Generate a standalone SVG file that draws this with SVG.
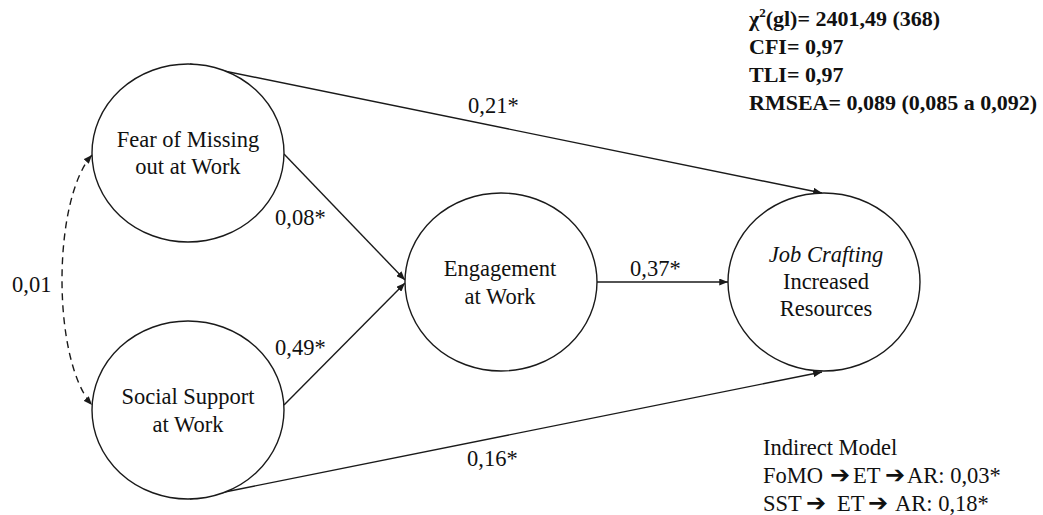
<svg xmlns="http://www.w3.org/2000/svg" width="1043" height="515" viewBox="0 0 1043 515">
<defs>
<style>
.node ellipse{fill:#fff;stroke:#1a1a1a;stroke-width:1.4}
.t{font-family:"Liberation Serif","Times New Roman",serif;font-size:22.5px;fill:#111;text-anchor:middle}
.lbl{font-family:"Liberation Serif","Times New Roman",serif;font-size:22.5px;fill:#111}
.stat{font-family:"Liberation Serif","Times New Roman",serif;font-size:22px;font-weight:bold;fill:#111}
.arr{font-family:"DejaVu Sans",sans-serif;font-size:24px;font-weight:bold}
.conn path{fill:none;stroke:#1a1a1a;stroke-width:1.4}
</style>
<marker id="ah" viewBox="0 0 10 8" refX="10" refY="4" markerWidth="9" markerHeight="7" markerUnits="userSpaceOnUse" orient="auto-start-reverse">
<path d="M0,0 L10,4 L0,8 z" fill="#1a1a1a"/>
</marker>
</defs>
<rect width="1043" height="515" fill="#fff"/>
<g id="connectors" class="conn">
<path d="M190,64 L822,193" marker-end="url(#ah)"/>
<path d="M190,499 L822,372" marker-end="url(#ah)"/>
<path d="M284,154 L405,280" marker-end="url(#ah)"/>
<path d="M284,405 L405,283" marker-end="url(#ah)"/>
<path d="M597,282 L728,282" marker-end="url(#ah)"/>
<path d="M92,155 C52,200 52,360 92,405" stroke-dasharray="7,5" marker-start="url(#ah)" marker-end="url(#ah)"/>
</g>
<g id="node-fomo" class="node">
<ellipse cx="188" cy="153" rx="96" ry="89"/>
<text class="t" x="188" y="147">Fear of Missing</text>
<text class="t" x="188" y="174">out at Work</text>
</g>
<g id="node-sst" class="node">
<ellipse cx="188" cy="410" rx="96" ry="89"/>
<text class="t" x="188" y="404">Social Support</text>
<text class="t" x="188" y="432">at Work</text>
</g>
<g id="node-eng" class="node">
<ellipse cx="501" cy="282" rx="96" ry="89"/>
<text class="t" x="500" y="276">Engagement</text>
<text class="t" x="500" y="304">at Work</text>
</g>
<g id="node-jc" class="node">
<ellipse cx="824" cy="282" rx="96" ry="89"/>
<text class="t" x="826" y="262" font-style="italic">Job Crafting</text>
<text class="t" x="826" y="289">Increased</text>
<text class="t" x="826" y="316">Resources</text>
</g>
<g id="labels">
<text class="lbl" x="468" y="113">0,21*</text>
<text class="lbl" x="275" y="225">0,08*</text>
<text class="lbl" x="275" y="355">0,49*</text>
<text class="lbl" x="12" y="292">0,01</text>
<text class="lbl" x="630" y="276">0,37*</text>
<text class="lbl" x="467" y="466">0,16*</text>
</g>
<g id="stats">
<text class="stat" x="749" y="26">χ<tspan font-size="13" dy="-9">2</tspan><tspan dy="9">(gl)= 2401,49 (368)</tspan></text>
<text class="stat" x="749" y="54">CFI= 0,97</text>
<text class="stat" x="749" y="82">TLI= 0,97</text>
<text class="stat" x="749" y="110">RMSEA= 0,089 (0,085 a 0,092)</text>
</g>
<g id="indirect">
<text class="lbl" x="763" y="455">Indirect Model</text>
<text class="lbl" y="483"><tspan x="763">FoMO</tspan><tspan class="arr" x="830">➔</tspan><tspan x="853">ET</tspan><tspan class="arr" x="885">➔</tspan><tspan x="907">AR: 0,03*</tspan></text>
<text class="lbl" y="511"><tspan x="763">SST</tspan><tspan class="arr" x="806">➔</tspan><tspan x="837">ET</tspan><tspan class="arr" x="868">➔</tspan><tspan x="895">AR: 0,18*</tspan></text>
</g>
</svg>
